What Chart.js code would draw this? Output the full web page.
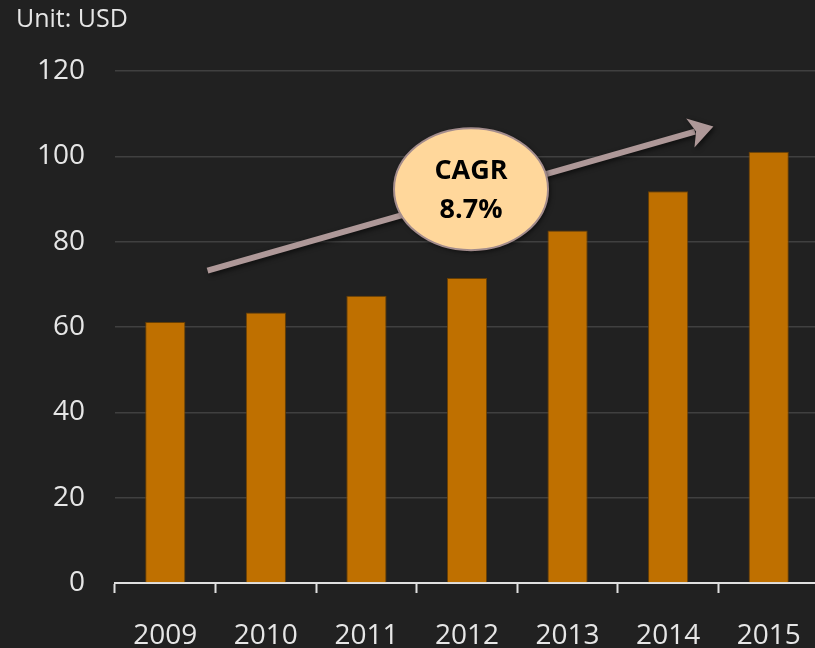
<!DOCTYPE html>
<html>
<head>
<meta charset="utf-8">
<script src="https://cdn.jsdelivr.net/npm/chart.js@4.4.0/dist/chart.umd.min.js"></script>
<style>
html,body{margin:0;padding:0;background:#212121;overflow:hidden;}
#wrap{position:relative;width:815px;height:648px;overflow:hidden;}
#c{position:absolute;left:0;top:0;}
</style>
</head>
<body>
<div id="wrap"><canvas id="c" width="819" height="648"></canvas></div>
<script>
const categories = ['2009','2010','2011','2012','2013','2014','2015'];
const values = [61.2, 63.4, 67.3, 71.5, 82.6, 91.8, 101.1];
const yTicks = [0, 20, 40, 60, 80, 100, 120];
const unitLabel = 'Unit: USD';
const cagrLines = ['CAGR', '8.7%'];
// annotation anchors in data coordinates (category index, value)
const arrowFrom = [0.42, 73.2];
const arrowTo = [5.45, 107.0];
const bubbleAt = [3.04, 92.3];

const decor = {
  id: 'decor',
  afterDatasetsDraw(chart) {
    const ctx = chart.ctx, x = chart.scales.x, y = chart.scales.y;
    const px = v => x.getPixelForValue(0) + (x.getPixelForValue(1) - x.getPixelForValue(0)) * v;
    ctx.save();
    ctx.fillStyle = '#e6e6e6';
    ctx.font = '25px "Open Sans"';
    ctx.textBaseline = 'middle';
    ctx.textAlign = 'left';
    ctx.fillText(unitLabel, 16, 20);
    const x1 = px(arrowFrom[0]), y1 = y.getPixelForValue(arrowFrom[1]);
    const x2 = px(arrowTo[0]), y2 = y.getPixelForValue(arrowTo[1]);
    const ang = Math.atan2(y2 - y1, x2 - x1);
    const headLen = 24, headW = 15;
    ctx.shadowColor = 'rgba(0,0,0,0.6)';
    ctx.shadowBlur = 5; ctx.shadowOffsetX = 2; ctx.shadowOffsetY = 2;
    ctx.strokeStyle = '#ae9898';
    ctx.lineWidth = 6;
    ctx.beginPath();
    ctx.moveTo(x1, y1);
    ctx.lineTo(x2 - Math.cos(ang) * headLen * 0.8, y2 - Math.sin(ang) * headLen * 0.8);
    ctx.stroke();
    ctx.fillStyle = '#ae9898';
    ctx.beginPath();
    ctx.moveTo(x2, y2);
    const bx = x2 - Math.cos(ang) * headLen, by = y2 - Math.sin(ang) * headLen;
    ctx.lineTo(bx + Math.sin(ang) * headW, by - Math.cos(ang) * headW);
    ctx.lineTo(x2 - Math.cos(ang) * headLen * 0.75, y2 - Math.sin(ang) * headLen * 0.75);
    ctx.lineTo(bx - Math.sin(ang) * headW, by + Math.cos(ang) * headW);
    ctx.closePath();
    ctx.fill();
    const cx = px(bubbleAt[0]), cy = y.getPixelForValue(bubbleAt[1]);
    ctx.fillStyle = '#ffd79b';
    ctx.beginPath();
    ctx.ellipse(cx, cy, 77, 61, 0, 0, Math.PI * 2);
    ctx.fill();
    ctx.shadowColor = 'transparent';
    ctx.strokeStyle = '#a38c8c';
    ctx.lineWidth = 2;
    ctx.stroke();
    ctx.fillStyle = '#000';
    ctx.font = 'bold 27px "Open Sans"';
    ctx.textAlign = 'center';
    ctx.fillText(cagrLines[0], cx, cy - 18);
    ctx.fillText(cagrLines[1], cx, cy + 21);
    ctx.restore();
  }
};

new Chart(document.getElementById('c'), {
  type: 'bar',
  data: {
    labels: categories,
    datasets: [{
      data: values,
      backgroundColor: '#bf7000',
      borderColor: 'rgba(110,65,0,0.9)',
      borderWidth: 1,
      barPercentage: 0.4,
      categoryPercentage: 1.0
    }]
  },
  options: {
    responsive: false,
    animation: false,
    devicePixelRatio: 1,
    layout: { padding: { top: 71, left: 0, right: 0, bottom: 0 } },
    plugins: { legend: { display: false }, tooltip: { enabled: false } },
    scales: {
      x: {
        afterFit(s) { s.height = 65; s.paddingLeft = 0; s.paddingRight = 0; },
        grid: { display: true, drawOnChartArea: false, offset: true, tickLength: 10, tickColor: '#e0e0e0', tickWidth: 2 },
        border: { display: true, color: '#e0e0e0', width: 2 },
        ticks: { color: '#e6e6e6', font: { family: 'Open Sans', size: 28 }, padding: 26, maxRotation: 0 }
      },
      y: {
        min: 0, max: 120,
        afterFit(s) { s.width = 115; },
        afterBuildTicks(s) { s.ticks = yTicks.map(v => ({ value: v })); },
        grid: { color: '#404040', lineWidth: 1.5, drawTicks: false },
        border: { display: false },
        ticks: { color: '#e6e6e6', font: { family: 'Open Sans', size: 28 }, padding: 30 }
      }
    }
  },
  plugins: [decor]
});
</script>
</body>
</html>
